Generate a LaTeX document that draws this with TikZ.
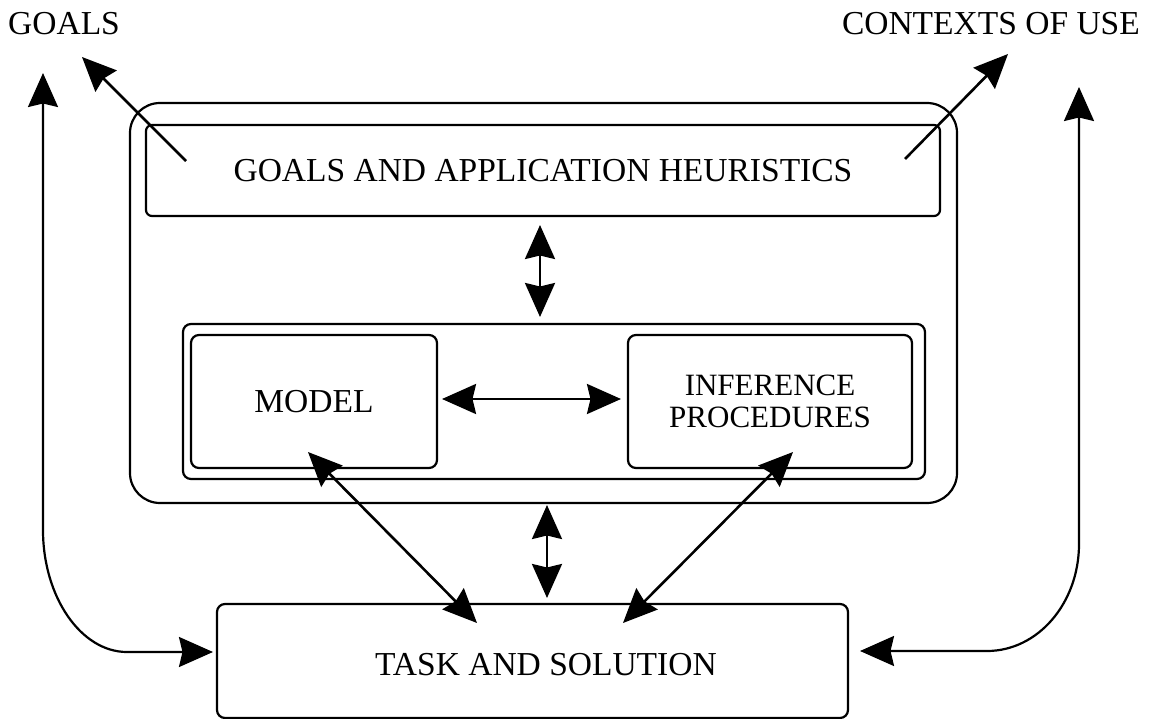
\documentclass[tikz,border=0pt]{standalone}
\usepackage{fontspec}
\setmainfont{Liberation Serif}
\usetikzlibrary{arrows.meta}
\begin{document}
\begin{tikzpicture}[x=1pt,y=-1pt,
  box/.style={draw, line width=2.2pt, rounded corners=8pt, inner sep=0pt, outer sep=0pt},
  txt/.style={font=\fontsize{33.5}{30}\selectfont, align=center, inner sep=0pt},
  link/.style={line width=2.6pt, {Stealth[length=34pt,width=30pt,inset=3.5pt]}-{Stealth[length=34pt,width=30pt,inset=3.5pt]}},
  oneway/.style={line width=2.6pt, -{Stealth[length=34pt,width=30pt,inset=3.5pt]}},
  loop/.style={line width=2.2pt, {Stealth[length=34pt,width=30pt,inset=3.5pt]}-{Stealth[length=34pt,width=30pt,inset=3.5pt]}}]
\useasboundingbox (0,0) rectangle (1154,719);

% knowledge-system frame and its parts
\node[box, rounded corners=30pt, minimum width=827pt, minimum height=400pt] (outer) at (543.5,303) {};
\node[box, rounded corners=6pt, txt, minimum width=794pt, minimum height=91pt] (goals) at (543,170.5) {GOALS AND APPLICATION HEURISTICS};
\node[box, minimum width=742pt, minimum height=155pt] (mid) at (554,401.5) {};
\node[box, txt, minimum width=246pt, minimum height=133pt] (model) at (314,401.5) {MODEL};
\node[box, txt, font=\fontsize{31}{32}\selectfont, minimum width=284pt, minimum height=133pt] (infer) at (770,401.5) {INFERENCE\\PROCEDURES};

% task box
\node[box, minimum width=631pt, minimum height=114pt] (task) at (532.5,661) {};
\node[txt, anchor=base] (taskText) at (546,675) {TASK AND SOLUTION};

% outside labels
\node[txt, anchor=base west] (goalsLbl) at (8,35) {GOALS};
\node[txt, anchor=base east] (ctxLbl) at (1140,35) {CONTEXTS OF USE};

% free ends of the connectors
\coordinate (gTail) at (186,161);
\coordinate (gTip) at (82,57);
\coordinate (cTail) at (905,159);
\coordinate (cTip) at (1008,54);
\coordinate (leftTop) at (43,73);
\coordinate (rightTop) at (1079,87);

% connectors
\draw[oneway] (gTail) -- (gTip);
\draw[oneway] (cTail) -- (cTip);
\draw[link] ([shift={(-3pt,-9pt)}]goals.south) -- ([shift={(-14pt,7pt)}]mid.north);
\draw[link] ([shift={(5pt,2.5pt)}]model.east) -- ([shift={(-7pt,2.5pt)}]infer.west);
\draw[link] ([shift={(3.5pt,-2pt)}]outer.south) -- ([shift={(14.5pt,6pt)}]task.north);
\draw[link] ([shift={(-6pt,16pt)}]model.south) -- ([shift={(-55.5pt,-19pt)}]task.north);
\draw[link] ([shift={(23pt,16pt)}]infer.south) -- ([shift={(90.5pt,-19pt)}]task.north);
\draw[loop] (leftTop) -- (43,530) .. controls (43,597) and (81,652) .. (127,652) -- ([shift={(-4pt,9pt)}]task.west);
\draw[loop] (rightTop) -- (1079,544) .. controls (1079,603) and (1038,651) .. (987,651) -- ([shift={(12pt,10pt)}]task.east);
\end{tikzpicture}
\end{document}
